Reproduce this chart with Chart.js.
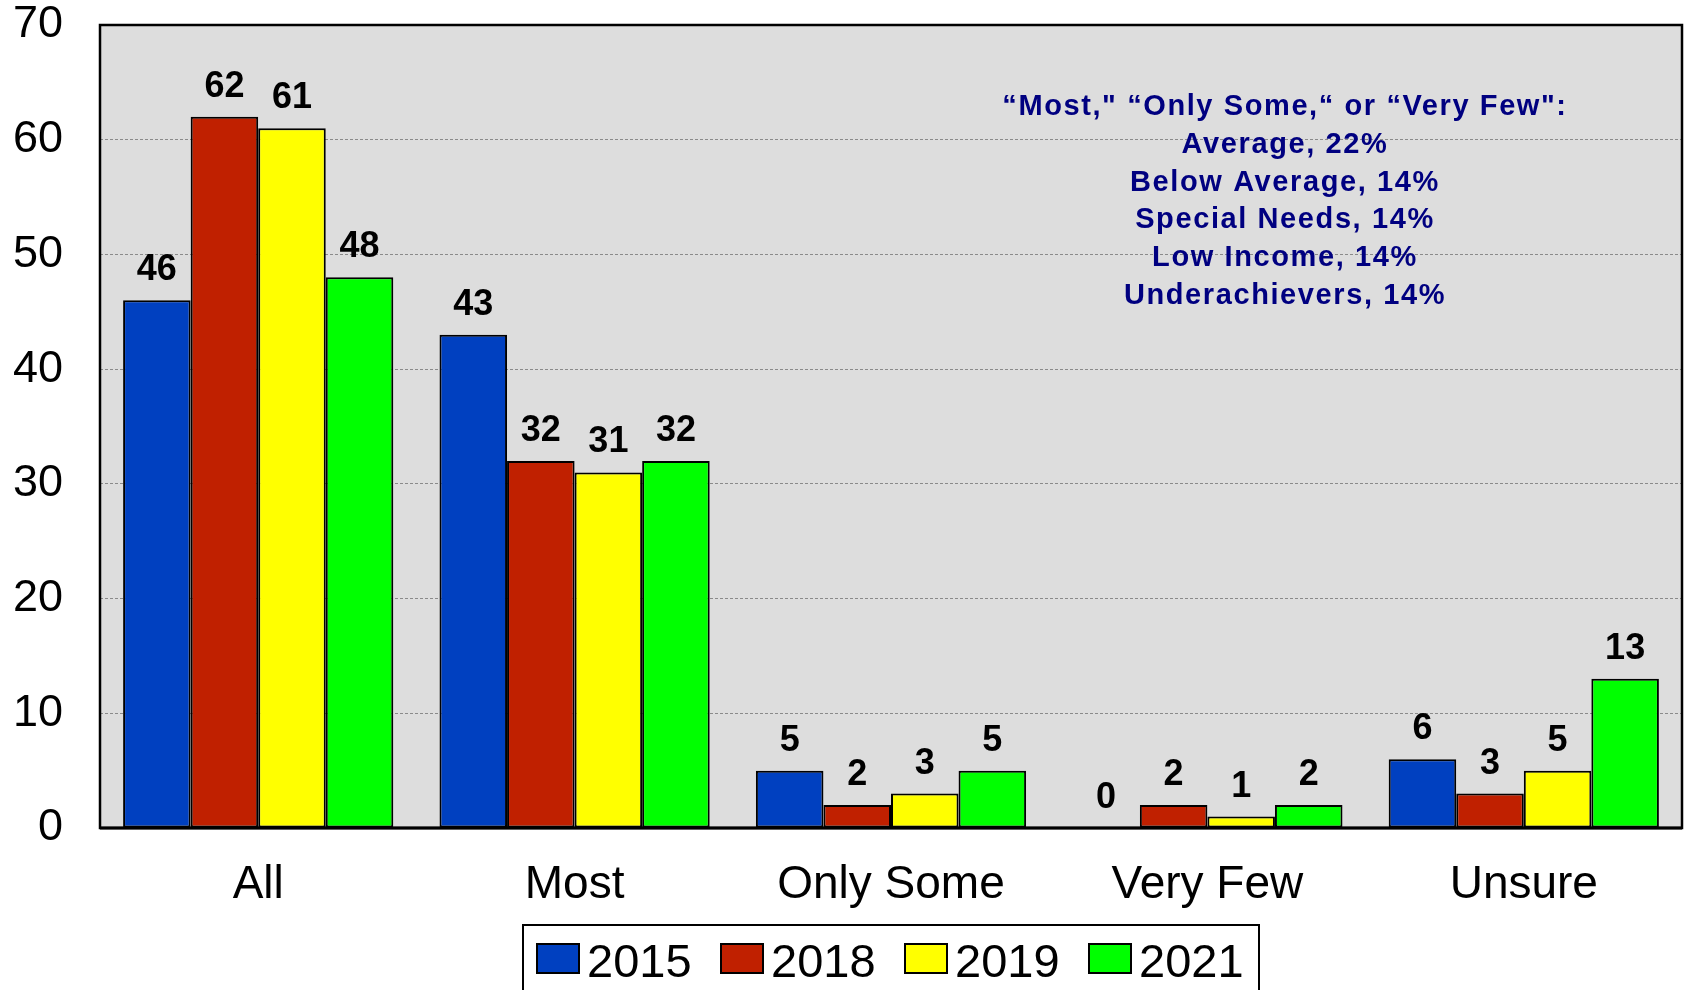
<!DOCTYPE html>
<html>
<head>
<meta charset="utf-8">
<script src="https://cdn.jsdelivr.net/npm/chart.js@4.4.1/dist/chart.umd.min.js"></script>
<style>
  body { margin: 0; background: #fff; }
  canvas { display: block; }
</style>
</head>
<body>
<canvas id="chart" width="1687" height="990"></canvas>
<script>
// данные с картинки
const categories = ['All', 'Most', 'Only Some', 'Very Few', 'Unsure'];
const years = ['2015', '2018', '2019', '2021'];
const values2015 = [46, 43, 5, 0, 6];
const values2018 = [62, 32, 2, 2, 3];
const values2019 = [61, 31, 3, 1, 5];
const values2021 = [48, 32, 5, 2, 13];
const yTicks = [0, 10, 20, 30, 40, 50, 60, 70];
const noteLines = [
    '\u201CMost," \u201COnly Some,\u201C or \u201CVery Few":',
    'Average, 22%',
    'Below Average, 14%',
    'Special Needs, 14%',
    'Low Income, 14%',
    'Underachievers, 14%'
];

const colors = ['#0040C0', '#C02000', '#FFFF00', '#00FF00'];
const series = [values2015, values2018, values2019, values2021];
const FONT = 'Arial, "Liberation Sans", sans-serif';

// фон области построения и рамка
const plotFrame = {
    id: 'plotFrame',
    beforeDraw(chart) {
        const { ctx, chartArea: a } = chart;
        ctx.save();
        ctx.fillStyle = '#DDDDDD';
        ctx.fillRect(a.left, a.top, a.right - a.left, a.bottom - a.top);
        ctx.restore();
    },
    afterDraw(chart) {
        const { ctx, chartArea: a } = chart;
        ctx.save();
        ctx.strokeStyle = '#000';
        ctx.lineWidth = 2.5;
        ctx.strokeRect(a.left, a.top, a.right - a.left, a.bottom - a.top);
        ctx.beginPath();
        ctx.lineWidth = 3;
        ctx.moveTo(a.left, a.bottom);
        ctx.lineTo(a.right, a.bottom);
        ctx.stroke();
        ctx.restore();
    }
};

// подписи значений над столбцами
const valueLabels = {
    id: 'valueLabels',
    afterDatasetsDraw(chart) {
        const { ctx } = chart;
        ctx.save();
        ctx.fillStyle = '#000';
        ctx.font = 'bold 36px ' + FONT;
        ctx.textAlign = 'center';
        ctx.textBaseline = 'alphabetic';
        chart.data.datasets.forEach((ds, i) => {
            chart.getDatasetMeta(i).data.forEach((bar, j) => {
                ctx.fillText(String(ds.data[j]), bar.x, bar.y - 20);
            });
        });
        ctx.restore();
    }
};

// текстовая заметка справа сверху
const noteBox = {
    id: 'noteBox',
    afterDraw(chart) {
        const { ctx, chartArea: a } = chart;
        const cx = a.left + (a.right - a.left) * 0.7484 + 1;
        ctx.save();
        ctx.fillStyle = '#000080';
        ctx.font = 'bold 29px ' + FONT;
        ctx.letterSpacing = '1.6px';
        ctx.textAlign = 'center';
        ctx.textBaseline = 'alphabetic';
        noteLines.forEach((line, i) => {
            ctx.fillText(line, cx, a.top + 90 + i * 37.8);
        });
        ctx.restore();
    }
};

// легенда в рамке снизу
const boxLegend = {
    id: 'boxLegend',
    afterDraw(chart) {
        const { ctx } = chart;
        const left = 523, right = 1259, top = 925;
        ctx.save();
        ctx.fillStyle = '#fff';
        ctx.fillRect(left, top, right - left, 990 - top);
        ctx.strokeStyle = '#000';
        ctx.lineWidth = 2;
        ctx.strokeRect(left, top, right - left, 990 - top + 10);
        chart.data.datasets.forEach((ds, i) => {
            const x0 = 537 + i * 184;
            ctx.fillStyle = ds.backgroundColor;
            ctx.fillRect(x0, 944, 42, 29);
            ctx.lineWidth = 2;
            ctx.strokeRect(x0, 944, 42, 29);
            ctx.fillStyle = '#000';
            ctx.font = '47px ' + FONT;
            ctx.textBaseline = 'alphabetic';
            ctx.fillText(ds.label, x0 + 50, 977);
        });
        ctx.restore();
    }
};

new Chart(document.getElementById('chart'), {
    type: 'bar',
    data: {
        labels: categories,
        datasets: years.map((y, i) => ({
            label: y,
            data: series[i],
            backgroundColor: colors[i],
            borderColor: '#000',
            borderWidth: 2,
            borderSkipped: false,
            categoryPercentage: 0.854,
            barPercentage: 1
        }))
    },
    options: {
        responsive: false,
        devicePixelRatio: 1,
        animation: false,
        layout: { padding: { top: 25, right: 5, left: 0, bottom: 0 } },
        plugins: {
            legend: { display: false },
            tooltip: { enabled: false }
        },
        scales: {
            x: {
                grid: { display: false, drawTicks: false },
                border: { display: false },
                ticks: { color: '#000', font: { family: FONT, size: 46 }, padding: 30, maxRotation: 0 },
                afterFit: s => { s.height = 162; }
            },
            y: {
                min: 0,
                max: 70,
                afterBuildTicks: s => { s.ticks = yTicks.map(v => ({ value: v })); },
                grid: { color: '#8a8a8a', lineWidth: 1, drawTicks: false },
                border: { display: false, dash: [3, 2] },
                ticks: { color: '#000', font: { family: FONT, size: 45 }, padding: 37 },
                afterFit: s => { s.width = 100; s.paddingTop = 0; s.paddingBottom = 0; }
            }
        }
    },
    plugins: [plotFrame, valueLabels, noteBox, boxLegend]
});
</script>
</body>
</html>
